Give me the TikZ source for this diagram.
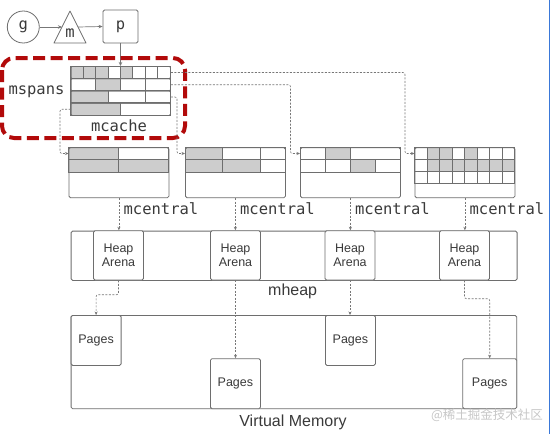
\documentclass[tikz,border=0pt]{standalone}
\usepackage{fontspec}
\setmainfont{Liberation Sans}
\newfontfamily\monofont{DejaVu Sans Mono}
\newfontfamily\cjkfont{Noto Sans CJK SC}
\usetikzlibrary{arrows.meta,calc}
\definecolor{boxline}{HTML}{6E6E6E}
\definecolor{cellfill}{HTML}{CDCDCD}
\definecolor{conn}{HTML}{777777}
\definecolor{hired}{HTML}{B20A0A}
\definecolor{txt}{HTML}{3A3A3A}
\definecolor{edgeblue}{HTML}{3A78D8}
\newcommand\mkrow[5]{% x, y, height, unit, list start/end/fill
  \foreach \ca/\cb/\cf in {#5}{%
    \draw[cell\cf] ({#1+\ca*#4},#2) rectangle ({#1+\cb*#4},{#2+#3});
  }}
\begin{document}
\begin{tikzpicture}[x=1pt,y=-1pt,
  cellg/.style={draw=boxline,fill=cellfill,line width=0.7pt},
  cellw/.style={draw=boxline,fill=white,line width=0.7pt},
  rowbox/.style={draw=boxline,line width=0.8pt,rounded corners=1pt,inner sep=0pt,minimum width=99.3pt,minimum height=12.25pt,anchor=north west},
  cbox/.style={draw=boxline,line width=0.8pt,rounded corners=1.5pt,inner sep=0pt,minimum width=100pt,minimum height=50pt,anchor=north west},
  abox/.style={draw=boxline,fill=white,line width=0.8pt,rounded corners=1.5pt,inner sep=0pt,minimum width=50pt,minimum height=49.3pt,align=center,text=txt,font=\fontsize{12.5}{14.3}\selectfont},
  pbox/.style={draw=boxline,fill=white,line width=0.8pt,rounded corners=1.5pt,inner sep=0pt,minimum height=50pt,anchor=north west,text=txt,font=\fontsize{12.5}{14}\selectfont},
  bigbox/.style={draw=boxline,line width=0.8pt,rounded corners=1.5pt,inner sep=0pt,anchor=north west},
  monotxt/.style={text=txt,font=\monofont\fontsize{15.5}{16}\selectfont,inner sep=0pt},
  sanstxt/.style={text=txt,font=\fontsize{16}{18}\selectfont,inner sep=0pt},
  dconn/.style={draw=conn,line width=0.6pt,dash pattern=on 2pt off 1.5pt,rounded corners=2pt,-{Stealth[length=3.5pt,width=3pt]}},
  sconn/.style={draw=conn,line width=0.7pt,-{Stealth[length=4pt,width=3.5pt]}}
]
\useasboundingbox (0,0) rectangle (552,434);
\fill[white] (0,0) rectangle (552,434);
\draw[edgeblue,line width=1.5pt] (549.5,0) -- (549.5,434);

% g, m, p
\node[draw=boxline,line width=0.8pt,circle,minimum size=32pt,inner sep=0pt,monotxt] (g) at (23.3,27) {g};
\draw[boxline,line width=0.8pt,line join=round] (70,11) -- (86,43) -- (54,43) -- cycle;
\node[monotxt] (m) at (70,33) {m};
\coordinate (mL) at (62,27);
\coordinate (mR) at (78,27);
\node[draw=boxline,line width=0.8pt,rounded corners=1.5pt,minimum width=35pt,minimum height=33pt,inner sep=0pt,monotxt] (p) at (120.5,26.5) {p};
\draw[sconn] (g) -- (mL);
\draw[sconn] (mR) -- (p.west);

% mcache
\mkrow{70.7}{66}{12.25}{12.4125}{0/1/g,1/2/g,2/3/g,3/4/w,4/5/g,5/6/w,6/7/w,7/8/w}
\mkrow{70.7}{78.25}{12.25}{12.4125}{0/2/w,2/4/g,4/6/w,6/8/w}
\mkrow{70.7}{90.5}{12.25}{12.4125}{0/3/g,3/6/w,6/8/w}
\mkrow{70.7}{102.75}{12.25}{12.4125}{0/4/g,4/8/w}
\node[rowbox] (r1) at (70.7,66) {};
\node[rowbox] (r2) at (70.7,78.25) {};
\node[rowbox] (r3) at (70.7,90.5) {};
\node[rowbox] (r4) at (70.7,102.75) {};
\draw[sconn] (p.south) -- (p.south |- r1.north);
\node[monotxt] (mspans) at (36.5,92) {mspans};
\node[monotxt] (mcache) at (119,125.5) {mcache};
\draw[hired,line width=4pt,dash pattern=on 12pt off 5.5pt,rounded corners=12pt] (2,58) rectangle (185,138);

% mcentral boxes
\mkrow{68.5}{147.3}{12.5}{12.5}{0/4/g,4/8/w}
\mkrow{68.5}{159.8}{12.5}{12.5}{0/4/g,4/8/g}
\node[cbox] (b1) at (68.5,147.3) {};
\mkrow{185}{147.3}{12.5}{12.5}{0/3/g,3/6/w,6/8/w}
\mkrow{185}{159.8}{12.5}{12.5}{0/3/g,3/6/g,6/8/w}
\node[cbox] (b2) at (185,147.3) {};
\mkrow{300}{147.3}{12.5}{12.5}{0/2/w,2/4/g,4/8/w}
\mkrow{300}{159.8}{12.5}{12.5}{0/2/w,2/4/w,4/6/g,6/8/w}
\node[cbox] (b3) at (300,147.3) {};
\mkrow{414.5}{147.3}{12}{12.5}{0/1/w,1/2/g,2/3/g,3/4/w,4/5/g,5/6/w,6/7/w,7/8/w}
\mkrow{414.5}{159.3}{12}{12.5}{0/1/w,1/2/g,2/3/g,3/4/g,4/5/g,5/6/g,6/7/g,7/8/g}
\mkrow{414.5}{171.3}{12}{12.5}{0/1/w,1/2/w,2/3/w,3/4/w,4/5/w,5/6/w,6/7/w,7/8/w}
\node[cbox] (b4) at (414.5,147.3) {};

% mcache -> mcentral
\draw[dconn] (r1.east) -| ($(b4.north west)+(-9.5,6.2)$) -- ($(b4.north west)+(0,6.2)$);
\draw[dconn] (r2.east) -| ($(b3.north west)+(-9.5,6.2)$) -- ($(b3.north west)+(0,6.2)$);
\draw[dconn] (r3.east) -| ($(b2.north west)+(-8,6.2)$) -- ($(b2.north west)+(0,6.2)$);
\draw[dconn] (r4.west) -| ($(b1.north west)+(-8.5,6.2)$) -- ($(b1.north west)+(0,6.2)$);

% mheap
\node[bigbox,minimum width=446pt,minimum height=49.3pt] (mheap) at (70.7,230.7) {};
\node[abox] (ha1) at (118.5,255.35) {Heap\\Arena};
\node[abox] (ha2) at (235.5,255.35) {Heap\\Arena};
\node[abox] (ha3) at (350,255.35) {Heap\\Arena};
\node[abox] (ha4) at (464.5,255.35) {Heap\\Arena};
\node[sanstxt,anchor=west] (mheaplbl) at (268,291) {mheap};

\foreach \i in {1,2,3,4}{
  \draw[dconn] (b\i.south) -- (b\i.south |- ha\i.north);
  \node[monotxt,anchor=west] (mc\i) at ($(b\i.south)+(4.5,10.5)$) {mcentral};
}

% virtual memory
\node[bigbox,minimum width=445.6pt,minimum height=93.3pt] (vm) at (70.7,315) {};
\node[pbox,minimum width=50pt] (pg1) at (70.7,315) {Pages};
\node[pbox,minimum width=50pt] (pg2) at (210,358.3) {Pages};
\node[pbox,minimum width=50pt] (pg3) at (325,315) {Pages};
\node[pbox,minimum width=54pt] (pg4) at (462.3,358.3) {Pages};
\node[sanstxt] (vmlbl) at (293,422.5) {Virtual Memory};

\draw[dconn] (ha1.south) -- ++(0,14.3) -| (pg1.north);
\draw[dconn] (ha2.south) -- (ha2.south |- pg2.north);
\draw[dconn] (ha3.south) -- (ha3.south |- pg3.north);
\draw[dconn] (ha4.south) -- ++(0,18.3) -| (pg4.north);

\node[text=black!22,font=\cjkfont\fontsize{12.5}{14}\selectfont,inner sep=0pt] (wm) at (487,415) {@稀土掘金技术社区};
\end{tikzpicture}
\end{document}
